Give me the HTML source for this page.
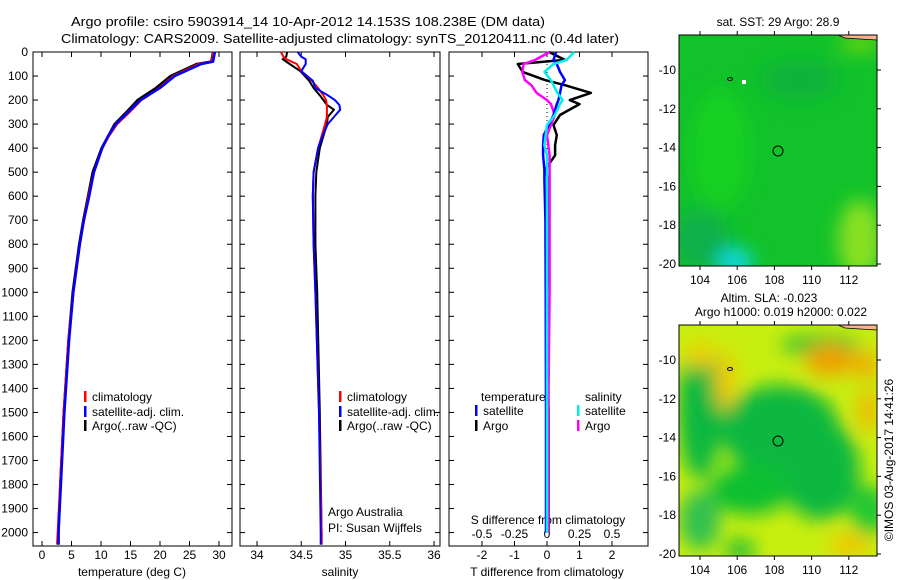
<!DOCTYPE html>
<html><head><meta charset="utf-8"><style>
body{margin:0;background:#fff}
svg{display:block;font-family:"Liberation Sans",sans-serif}
text{font-size:12px;fill:#000}
</style></head><body>
<svg id="fig" width="900" height="580" viewBox="0 0 900 580" xmlns="http://www.w3.org/2000/svg">
<defs>
<filter id="bl" x="-50%" y="-50%" width="200%" height="200%"><feGaussianBlur stdDeviation="9"/></filter>
<clipPath id="c1"><rect x="679" y="35" width="198" height="231"/></clipPath>
<clipPath id="c2"><rect x="679" y="325" width="198" height="231"/></clipPath>
</defs>
<text x="71" y="26" font-size="13" textLength="474" lengthAdjust="spacingAndGlyphs" style="font-size:13px">Argo profile: csiro 5903914_14 10-Apr-2012 14.153S 108.238E (DM data)</text>
<text x="61" y="43" textLength="558" lengthAdjust="spacingAndGlyphs" style="font-size:13px">Climatology: CARS2009. Satellite-adjusted climatology: synTS_20120411.nc (0.4d later)</text>
<g id="plots"></g>

<!-- top map -->
<g>
<text x="778" y="26" text-anchor="middle">sat. SST: 29 Argo: 28.9</text>
<g clip-path="url(#c1)">
<rect x="679" y="35" width="198" height="231" fill="#12c22a"/>
<g filter="url(#bl)">
<ellipse cx="720" cy="150" rx="30" ry="60" fill="#18d020"/>
<ellipse cx="800" cy="80" rx="40" ry="20" fill="#0db23a"/>
<ellipse cx="700" cy="240" rx="30" ry="30" fill="#10b048"/>
<ellipse cx="735" cy="262" rx="18" ry="14" fill="#10d8e0"/>
<ellipse cx="860" cy="240" rx="22" ry="40" fill="#88e020"/>
<ellipse cx="860" cy="44" rx="20" ry="6" fill="#90e010"/>
</g>
<polygon points="838,35 877,35 877,40 860,39 845,38" fill="#ffb090" stroke="#000" stroke-width="0.8"/>
<rect x="742" y="80" width="4" height="4" fill="#fff"/>
<ellipse cx="730" cy="79" rx="2.5" ry="1.5" fill="none" stroke="#000"/>
</g>
<rect x="679" y="35" width="198" height="231" fill="none" stroke="#000"/>
<circle cx="778" cy="151" r="5" fill="none" stroke="#000"/>
</g>

<!-- bottom map -->
<g>
<text x="769" y="302" text-anchor="middle">Altim. SLA: -0.023</text>
<text x="781" y="316" text-anchor="middle">Argo h1000: 0.019 h2000: 0.022</text>
<g clip-path="url(#c2)">
<rect x="679" y="325" width="198" height="231" fill="#c8ee10"/>
<g filter="url(#bl)">
<ellipse cx="700" cy="410" rx="22" ry="70" fill="#10b840"/>
<ellipse cx="780" cy="430" rx="60" ry="45" fill="#10b840"/>
<ellipse cx="820" cy="470" rx="40" ry="50" fill="#10b840"/>
<ellipse cx="750" cy="490" rx="40" ry="25" fill="#10c030"/>
<ellipse cx="870" cy="510" rx="20" ry="25" fill="#20c830"/>
<ellipse cx="700" cy="520" rx="20" ry="30" fill="#30c050"/>
<ellipse cx="740" cy="550" rx="15" ry="10" fill="#10b838"/>
<ellipse cx="820" cy="345" rx="40" ry="10" fill="#30c030"/>
<ellipse cx="830" cy="360" rx="25" ry="16" fill="#f0a000"/>
<ellipse cx="866" cy="365" rx="14" ry="14" fill="#f0b000"/>
<ellipse cx="868" cy="410" rx="10" ry="22" fill="#f0b800"/>
<ellipse cx="725" cy="380" rx="10" ry="30" fill="#f0c800"/>
<ellipse cx="700" cy="355" rx="14" ry="14" fill="#f0d000"/>
<ellipse cx="850" cy="545" rx="20" ry="12" fill="#f0c800"/>
</g>
<polygon points="838,325 877,325 877,330 860,329 845,328" fill="#ffb090" stroke="#000" stroke-width="0.8"/>
<ellipse cx="730" cy="369" rx="2.5" ry="1.5" fill="none" stroke="#000"/>
</g>
<rect x="679" y="325" width="198" height="231" fill="none" stroke="#000"/>
<circle cx="778" cy="441" r="5" fill="none" stroke="#000"/>
</g>
<text transform="translate(893,460) rotate(-90)" text-anchor="middle">©IMOS 03-Aug-2017 14:41:26</text>
<g id="mapaxes"></g>
</svg>
<script>
// ---- data ----
const depths = [0,40,50,100,150,200,250,300,350,400,500,600,700,800,1000,1200,1500,1800,2000,2050];
const tempClim = [29.1,28.8,26.6,22.3,19.9,16.8,14.8,12.7,11.3,10.2,8.8,7.9,7.1,6.4,5.3,4.5,3.7,3.1,2.7,2.6];
const tempSat  = [29.3,29.0,27.0,22.5,20.0,16.7,14.6,12.5,11.2,10.2,8.8,8.0,7.1,6.4,5.3,4.6,3.8,3.2,2.8,2.8];
const tempArgo = [29.0,28.7,26.2,21.8,19.3,16.2,14.3,12.3,11.2,10.1,8.6,7.8,7.0,6.3,5.2,4.5,3.7,3.1,2.8,2.8];
const salDepths = [0,20,30,50,80,120,150,180,200,220,240,270,300,350,400,500,600,800,1000,1500,2000,2050];
const salClim = [34.27,34.30,34.33,34.45,34.50,34.62,34.69,34.75,34.78,34.79,34.79,34.79,34.77,34.73,34.69,34.64,34.63,34.64,34.66,34.70,34.73,34.73];
const salSat  = [34.46,34.50,34.55,34.55,34.50,34.63,34.66,34.80,34.88,34.93,34.94,34.87,34.80,34.74,34.69,34.64,34.63,34.64,34.66,34.70,34.72,34.72];
const salArgo = [34.34,34.33,34.29,34.37,34.49,34.59,34.64,34.71,34.75,34.79,34.87,34.80,34.79,34.75,34.71,34.67,34.66,34.66,34.68,34.71,34.73,34.73];
const diffDepths = [0,33,50,83,117,138,170,200,217,262,304,346,388,430,490,533,700,1000,1500,2000];
const tDiffArgo = [0.06,0.55,-0.9,-0.75,-0.06,0.55,1.35,0.7,1.0,0.4,0.2,0.3,0.25,0.25,-0.06,0.05,0.05,0.0,0.05,0.05];
const tDiffSat  = [0.28,0.2,0.3,0.4,0.55,0.45,0.4,0.35,0.3,0.2,0.05,-0.1,-0.12,-0.12,-0.08,-0.08,-0.05,-0.04,-0.03,-0.03];
const sDiffArgo = [0.02,-0.09,-0.18,-0.19,-0.17,-0.12,-0.08,0.0,0.03,0.06,0.03,0.0,0.01,0.02,0.02,0.02,0.02,0.02,0.01,0.01];
const sDiffSat  = [0.21,0.15,0.05,-0.02,0.03,0.05,0.08,0.12,0.1,0.06,0.0,-0.01,-0.02,0.0,0.0,0.0,0.0,0.0,0.0,0.0];
const depthTicks = [0,100,200,300,400,500,600,700,800,900,1000,1100,1200,1300,1400,1500,1600,1700,1800,1900,2000];
const tempTicks = [0,5,10,15,20,25,30];
const salTicks = [34,34.5,35,35.5,36];
const tDiffTicks = [-2,-1,0,1,2];
const sDiffTicks = [-0.5,-0.25,0,0.25,0.5];
const sDiffTickLabels = ["-0.5","-0.25","0","0.25","0.5"];
const lonTicks = [104,106,108,110,112];
const latTicks = [-10,-12,-14,-16,-18,-20];

const NS="http://www.w3.org/2000/svg";
const g=document.getElementById('plots');
function el(tag,attrs,parent){const e=document.createElementNS(NS,tag);for(const k in attrs)e.setAttribute(k,attrs[k]);(parent||g).appendChild(e);return e;}
const top0=52, bot0=546;
const yD=d=>top0+d*0.2403;
const P1={l:33,r:232}, P2={l:240,r:440}, P3={l:449,r:648};
const xT=t=>42+t*5.9;
const xS=s=>257+(s-34)*88.5;
const xdT=v=>547+v*32.5;
const xdS=v=>547+v*130;

function frame(P,name){
  const r=el('rect',{x:P.l,y:top0,width:P.r-P.l,height:bot0-top0,fill:'none',stroke:'#000','stroke-width':1});
  
  
  depthTicks.forEach(d=>{
    const t1=el('line',{x1:P.l,x2:P.l+5,y1:yD(d),y2:yD(d),stroke:'#000'});
    
    
    const t2=el('line',{x1:P.r-5,x2:P.r,y1:yD(d),y2:yD(d),stroke:'#000'});
    
    
  });
}
function xticks(vals,labels,fx,ly){
  vals.forEach((v,i)=>{
    const a=el('line',{x1:fx(v),x2:fx(v),y1:bot0,y2:bot0-5,stroke:'#000'});
    
    
    const b=el('line',{x1:fx(v),x2:fx(v),y1:top0,y2:top0+5,stroke:'#000'});
    
    
    const t=el('text',{x:fx(v),y:ly,'text-anchor':'middle'});t.textContent=labels[i];
    
    
  });
}
function line(xs,ds,fx,color,name,w){
  const pts=xs.map((v,i)=>fx(v).toFixed(1)+','+yD(ds[i]).toFixed(1)).join(' ');
  const p=el('polyline',{points:pts,fill:'none',stroke:color,'stroke-width':w||2.5,'stroke-linejoin':'round'});
  
  
}
function txt(x,y,s,name,anchor){const t=el('text',{x:x,y:y,'text-anchor':anchor||'start'});t.textContent=s;
  
  
  return t;}
function legend(x,y,color,label){
  const m=el('rect',{x:x,y:y-6,width:2.5,height:11,fill:color});
  
  
  txt(x+8,y+4,label,'legend-entry');
}

// panel 1
frame(P1,'temperature-panel');
depthTicks.forEach(d=>txt(28,yD(d)+4,String(d),'depth-tick-label','end'));
xticks(tempTicks,tempTicks.map(String),xT,559);
txt(132,576,'temperature (deg C)','temperature-axis-title','middle');
line(tempArgo,depths,xT,'#000','temp-argo');
line(tempClim,depths,xT,'#f00','temp-climatology');
line(tempSat,depths,xT,'#00f','temp-satellite');
legend(84,397,'#f00','climatology');legend(84,412,'#00f','satellite-adj. clim.');legend(84,426,'#000','Argo(..raw -QC)');

// panel 2
frame(P2,'salinity-panel');
xticks(salTicks,['34','34.5','35','35.5','36'],xS,559);
txt(340,576,'salinity','salinity-axis-title','middle');
line(salArgo,salDepths,xS,'#000','sal-argo',2);
line(salClim,salDepths,xS,'#f00','sal-climatology',2);
line(salSat,salDepths,xS,'#00f','sal-satellite',2);
legend(339,397,'#f00','climatology');legend(339,412,'#00f','satellite-adj. clim.');legend(339,426,'#000','Argo(..raw -QC)');
txt(328,516,'Argo Australia','institution-label');txt(328,532,'PI: Susan Wijffels','pi-label');

// panel 3
frame(P3,'difference-panel');
xticks(tDiffTicks,tDiffTicks.map(String),xdT,559);
sDiffTicks.forEach((v,i)=>txt(xdS(v),538,sDiffTickLabels[i],'s-diff-tick-label','middle'));
txt(548,524,'S difference from climatology','s-diff-axis-title','middle');
txt(547,576,'T difference from climatology','t-diff-axis-title','middle');
const z=el('line',{x1:547,x2:547,y1:top0,y2:yD(450),stroke:'#000','stroke-dasharray':'1,3'});


line(tDiffArgo,diffDepths,xdT,'#000','tdiff-argo');
line(sDiffArgo,diffDepths,xdS,'#f0f','sdiff-argo');
line(tDiffSat,diffDepths,xdT,'#00f','tdiff-satellite');
line(sDiffSat,diffDepths,xdS,'#0ee','sdiff-satellite');
txt(481,401,'temperature','legend-temperature-heading');txt(585,401,'salinity','legend-salinity-heading');
legend(475,411,'#00f','satellite');legend(475,426,'#000','Argo');
legend(577,411,'#0ee','satellite');legend(577,426,'#f0f','Argo');

// map axes
const ma=document.getElementById('mapaxes');
const xLon=lo=>700+(lo-104)*18.6;
[[35,70],[325,360]].forEach(([t,l10])=>{
  const yLat=la=>l10+(-10-la)*19.4;
  lonTicks.forEach(lo=>{
    const a=el('line',{x1:xLon(lo),x2:xLon(lo),y1:t+231,y2:t+231+4,stroke:'#000'},ma);
    
    
    const b=el('line',{x1:xLon(lo),x2:xLon(lo),y1:t,y2:t-4,stroke:'#000'},ma);
    
    
    const s=el('text',{x:xLon(lo),y:t+249,'text-anchor':'middle'},ma);s.textContent=String(lo);
    
    
  });
  latTicks.forEach(la=>{
    const a=el('line',{x1:877,x2:881,y1:yLat(la),y2:yLat(la),stroke:'#000'},ma);
    
    
    const s=el('text',{x:676,y:yLat(la)+4,'text-anchor':'end'},ma);s.textContent=String(la);
    
    
  });
});
</script>
</body></html>
